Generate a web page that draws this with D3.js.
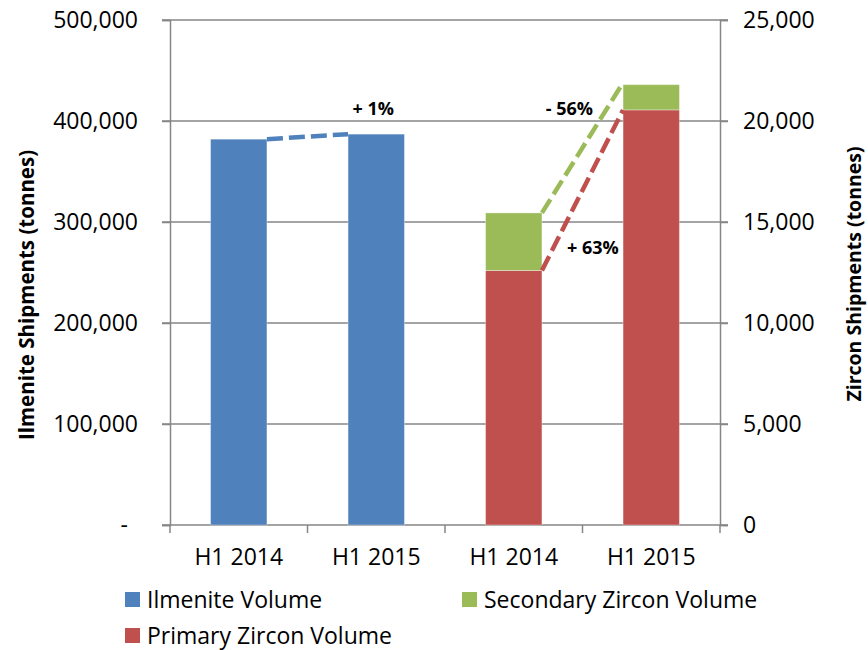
<!DOCTYPE html>
<html>
<head>
<meta charset="utf-8">
<script src="https://cdn.jsdelivr.net/npm/d3@7"></script>
<style>
  html, body { margin: 0; padding: 0; background: #fff; }
  svg { display: block; font-family: "Open Sans", sans-serif; }
</style>
</head>
<body>
<svg id="chart" width="868" height="650"></svg>
<script>
// ---- data ----
const categories = ["H1 2014", "H1 2015", "H1 2014", "H1 2015"];
const ilmeniteVolume = [382000, 387000];          // left axis, categories 0-1
const primaryZircon = [12600, 20550];             // right axis, categories 2-3
const secondaryZircon = [2850, 1250];             // right axis, stacked on primary
const changeLabels = ["+ 1%", "- 56%", "+ 63%"];
const leftTicks = [0, 100000, 200000, 300000, 400000, 500000];
const rightTicks = [0, 5000, 10000, 15000, 20000, 25000];
const legendItems = ["Ilmenite Volume", "Secondary Zircon Volume", "Primary Zircon Volume"];

const colors = { ilm: "#4F81BD", pri: "#C0504D", sec: "#9BBB59", grid: "#868686" };

const svg = d3.select("#chart");
const L = 170, R = 720, T = 20, B = 525;

const x = d3.scaleBand().domain(d3.range(categories.length)).range([L, R]).paddingInner(0.59).paddingOuter(0.295);
const yL = d3.scaleLinear().domain([0, 500000]).range([B, T]);
const yR = d3.scaleLinear().domain([0, 25000]).range([B, T]);

// gridlines
svg.append("g").selectAll("line").data(leftTicks.slice(1)).join("line")
  .attr("x1", L - 8).attr("x2", R + 8)
  .attr("y1", d => yL(d)).attr("y2", d => yL(d))
  .attr("stroke", colors.grid).attr("stroke-width", 1.5);

// left axis
const gL = svg.append("g").attr("transform", `translate(${L},0)`)
  .call(d3.axisLeft(yL).tickValues(leftTicks).tickSize(8).tickPadding(24)
    .tickFormat(d => d === 0 ? "-" : d3.format(",")(d)));
gL.select(".domain").attr("stroke", colors.grid).attr("stroke-width", 1.5);
gL.selectAll(".tick line").attr("stroke", colors.grid).attr("stroke-width", 1.5);
gL.selectAll(".tick text").attr("font-size", 23).attr("fill", "#000").attr("font-family", "Open Sans");
gL.selectAll(".tick text").filter(d => d === 0).attr("dx", -10);

// right axis
const gR = svg.append("g").attr("transform", `translate(${R},0)`)
  .call(d3.axisRight(yR).tickValues(rightTicks).tickSize(8).tickPadding(15)
    .tickFormat(d => d === 0 ? "0" : d3.format(",")(d)));
gR.select(".domain").attr("stroke", colors.grid).attr("stroke-width", 1.5);
gR.selectAll(".tick line").attr("stroke", colors.grid).attr("stroke-width", 1.5);
gR.selectAll(".tick text").attr("font-size", 23).attr("fill", "#000").attr("font-family", "Open Sans");

// bottom axis
const xb = d3.scaleLinear().domain([0, categories.length]).range([L, R]);
svg.append("line").attr("x1", L - 8).attr("x2", R + 8).attr("y1", B).attr("y2", B)
  .attr("stroke", colors.grid).attr("stroke-width", 1.5);
svg.append("g").selectAll("line").data(d3.range(categories.length + 1)).join("line")
  .attr("x1", d => xb(d)).attr("x2", d => xb(d)).attr("y1", B).attr("y2", B + 8)
  .attr("stroke", colors.grid).attr("stroke-width", 1.5);
svg.append("g").selectAll("text").data(categories).join("text")
  .attr("x", (d, i) => x(i) + x.bandwidth() / 2).attr("y", 565)
  .attr("text-anchor", "middle").attr("font-size", 23).text(d => d);

// bars: ilmenite
const bw = x.bandwidth();
svg.append("g").selectAll("rect").data(ilmeniteVolume).join("rect")
  .attr("x", (d, i) => x(i)).attr("width", bw)
  .attr("y", d => yL(d)).attr("height", d => B - yL(d))
  .attr("fill", colors.ilm).attr("stroke", "rgba(255,255,255,0.35)").attr("stroke-width", 1);

// bars: zircon stacked
const zi = [2, 3];
svg.append("g").selectAll("rect").data(primaryZircon).join("rect")
  .attr("x", (d, i) => x(zi[i])).attr("width", bw)
  .attr("y", d => yR(d)).attr("height", d => B - yR(d))
  .attr("fill", colors.pri).attr("stroke", "rgba(255,255,255,0.35)").attr("stroke-width", 1);
svg.append("g").selectAll("rect").data(secondaryZircon).join("rect")
  .attr("x", (d, i) => x(zi[i])).attr("width", bw)
  .attr("y", (d, i) => yR(d + primaryZircon[i])).attr("height", d => yR(0) - yR(d))
  .attr("fill", colors.sec).attr("stroke", "rgba(255,255,255,0.35)").attr("stroke-width", 1);

// dashed connector lines
function connector(x1, y1, x2, y2, color) {
  svg.append("line").attr("x1", x1).attr("y1", y1).attr("x2", x2).attr("y2", y2)
    .attr("stroke", color).attr("stroke-width", 4.5).attr("stroke-dasharray", "16,6");
}
connector(x(0) + bw, yL(ilmeniteVolume[0]), x(1), yL(ilmeniteVolume[1]), colors.ilm);
connector(x(2) + bw, yR(primaryZircon[0] + secondaryZircon[0]), x(3), yR(primaryZircon[1] + secondaryZircon[1]) - 2, colors.sec);
connector(x(2) + bw, yR(primaryZircon[0]), x(3), yR(primaryZircon[1]), colors.pri);

// change labels
const lab = svg.append("g").attr("font-size", 18).attr("font-weight", "bold");
lab.append("text").attr("x", x(1) + bw / 2 - 3).attr("y", yL(ilmeniteVolume[1]) - 19)
  .attr("text-anchor", "middle").text(changeLabels[0]);
lab.append("text").attr("x", x(3) - 30).attr("y", yR(primaryZircon[1] + secondaryZircon[1]) + 30)
  .attr("text-anchor", "end").text(changeLabels[1]);
lab.append("text").attr("x", x(2) + bw + 25).attr("y", yR(primaryZircon[0]) - 16)
  .attr("text-anchor", "start").text(changeLabels[2]);

// axis titles
svg.append("text").attr("transform", "translate(34,295) rotate(-90)")
  .attr("text-anchor", "middle").attr("font-size", 20.5).attr("font-weight", "bold")
  .text("Ilmenite Shipments (tonnes)");
svg.append("text").attr("transform", "translate(861,274) rotate(-90)")
  .attr("text-anchor", "middle").attr("font-size", 19.5).attr("font-weight", "bold")
  .text("Zircon Shipments (tonnes)");

// legend
const legPos = [[125, 608], [462, 608], [125, 644]];
const legColors = [colors.ilm, colors.sec, colors.pri];
const lg = svg.append("g").selectAll("g").data(legendItems).join("g")
  .attr("transform", (d, i) => `translate(${legPos[i][0]},${legPos[i][1]})`);
lg.append("rect").attr("x", 0).attr("y", -16).attr("width", 15).attr("height", 15)
  .attr("fill", (d, i) => legColors[i]);
lg.append("text").attr("x", 22).attr("y", 0).attr("font-size", 23).text(d => d);
</script>
</body>
</html>
